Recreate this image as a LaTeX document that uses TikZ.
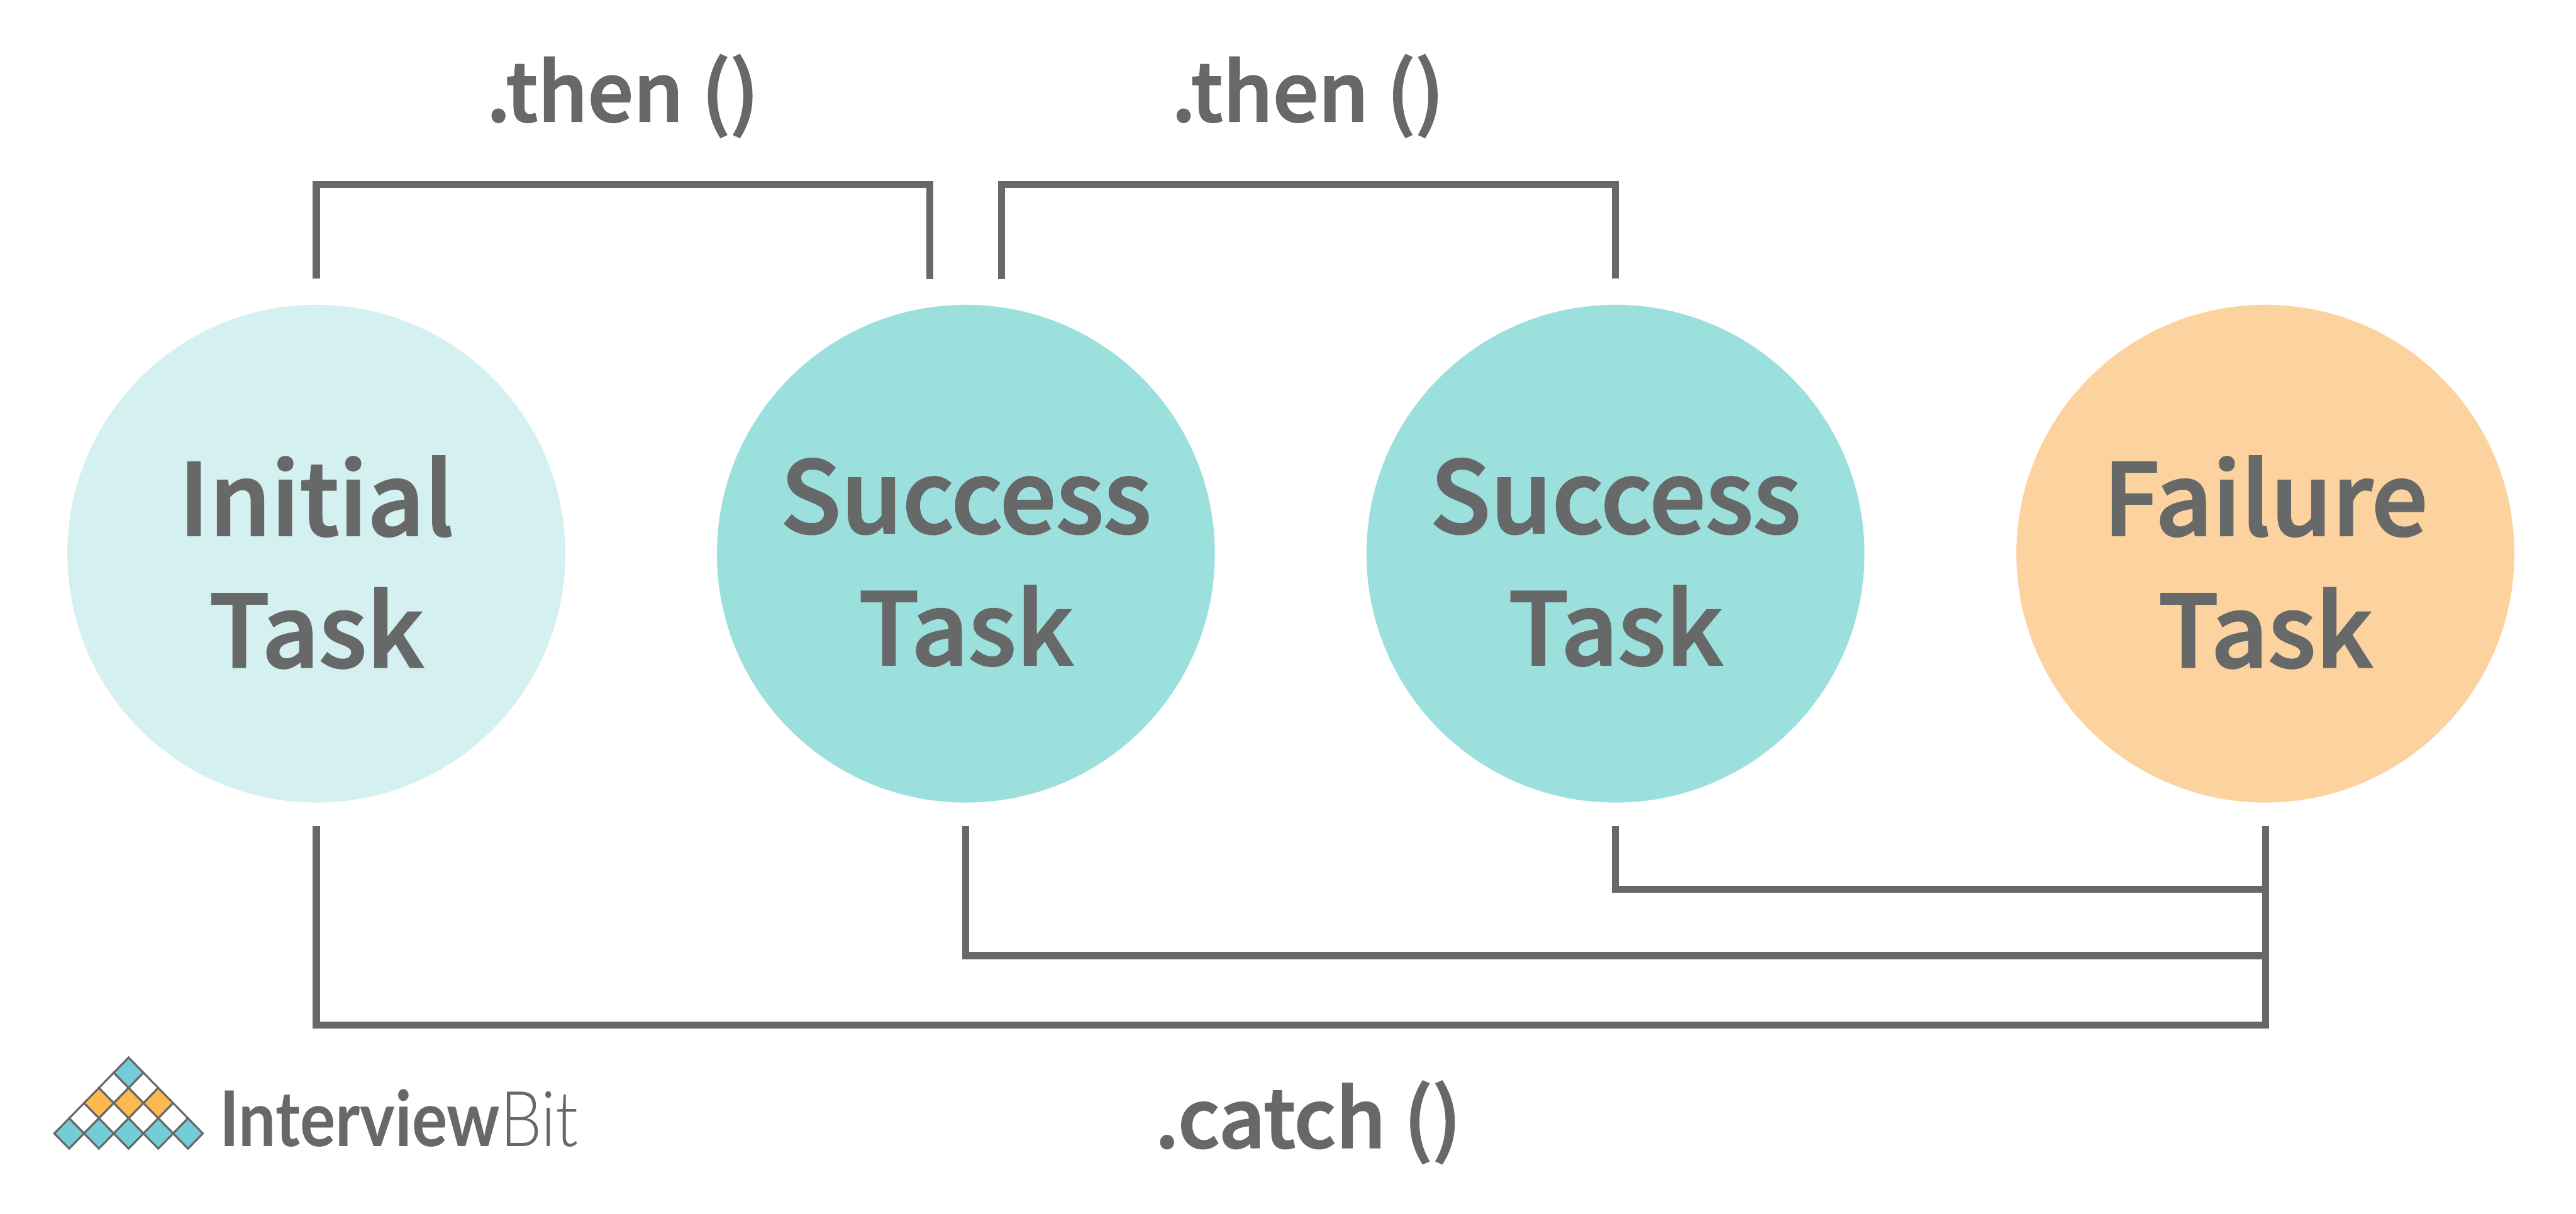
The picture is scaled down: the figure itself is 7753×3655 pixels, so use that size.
\documentclass[tikz,border=0pt]{standalone}
\usepackage{fontspec}
\setmainfont{Noto Sans CJK SC}[UprightFont=* Medium, UprightFeatures={FakeBold=2}]
\newfontfamily\logoheavy{Lato}[UprightFont=* Bold, FakeStretch=0.86]
\newfontfamily\logothin{Lato}[UprightFont=* Light, FakeStretch=0.86]
\usetikzlibrary{positioning}
\definecolor{linegrey}{HTML}{676968}
\definecolor{initialcol}{HTML}{D5F0F0}
\definecolor{successcol}{HTML}{9CE0DE}
\definecolor{failurecol}{HTML}{FCD39F}
\definecolor{logoteal}{HTML}{74CDD6}
\definecolor{logoorange}{HTML}{FDB94F}
\tikzset{
  taskcircle/.style={circle, minimum size=7.5cm, inner sep=0pt},
  tasklabel/.style={inner sep=0pt, align=center, yshift=-0.13cm, text=linegrey, font=\fontsize{42.5}{56.5}\selectfont},
  linkline/.style={draw=linegrey, line width=0.105cm, line cap=butt, line join=miter},
  methodlabel/.style={anchor=base, text=linegrey, inner sep=0pt, font=\fontsize{34.5}{38}\selectfont},
  logotile/.style={draw=linegrey, line width=0.03cm, line join=miter}
}
\begin{document}
\begin{tikzpicture}[x=0.005cm,y=-0.005cm]
\useasboundingbox (0,0) rectangle (7753,3655);
\node[taskcircle, fill=initialcol] (initial) at (952,1667) {};
\node[taskcircle, fill=successcol] (success1) at (2907,1667) {};
\node[taskcircle, fill=successcol] (success2) at (4862,1667) {};
\node[taskcircle, fill=failurecol] (failure) at (6818,1667) {};
\node[tasklabel] (initialtext) at (initial) {Initial\\Task};
\node[tasklabel] (success1text) at (success1) {Success\\Task};
\node[tasklabel] (success2text) at (success2) {Success\\Task};
\node[tasklabel] (failuretext) at (failure) {Failure\\Task};

\node[methodlabel] (then1) at (1874,365) {.then ()};
\node[methodlabel] (then2) at (3936,365) {.then ()};
\node[methodlabel] (catch) at (3937,3455) {.catch ()};

% brackets over the circles
\coordinate[above=0.385cm of initial.north] (a1);
\coordinate (a2) at (2799,841);
\coordinate (b1) at (3015,841);
\coordinate[above=0.385cm of success2.north] (b2);
\draw[linkline] (a1) -- (a1 |- 0,556) -| (a2);
\draw[linkline] (b1) -- (b1 |- 0,556) -| (b2);

% lines under the circles
\coordinate[below=0.35cm of initial.south] (c1);
\coordinate[below=0.35cm of success1.south] (c2);
\coordinate[below=0.35cm of success2.south] (c3);
\coordinate[below=0.35cm of failure.south] (c4);
\draw[linkline] (c4) -- (c4 |- 0,3087) -| (c1);
\draw[linkline] (c4 |- 0,2877) -| (c2);
\draw[linkline] (c4 |- 0,2678) -| (c3);

% logo
\foreach \row/\tilecol in {0/logoteal,1/white,2/logoorange,3/white,4/logoteal}{
  \foreach \col in {0,...,\row}{
    \path[logotile, fill=\tilecol] ({387+44.7*(2*\col-\row)},{3184+45.7*\row}) -- ++(44.7,45.7) -- ++(-44.7,45.7) -- ++(-44.7,-45.7) -- cycle;
  }
}
\node[anchor=base west, inner sep=0pt, text=linegrey, font=\fontsize{33}{33}\selectfont] (logo) at (660,3452) {{\logoheavy Interview}{\logothin Bit}};
\end{tikzpicture}
\end{document}
